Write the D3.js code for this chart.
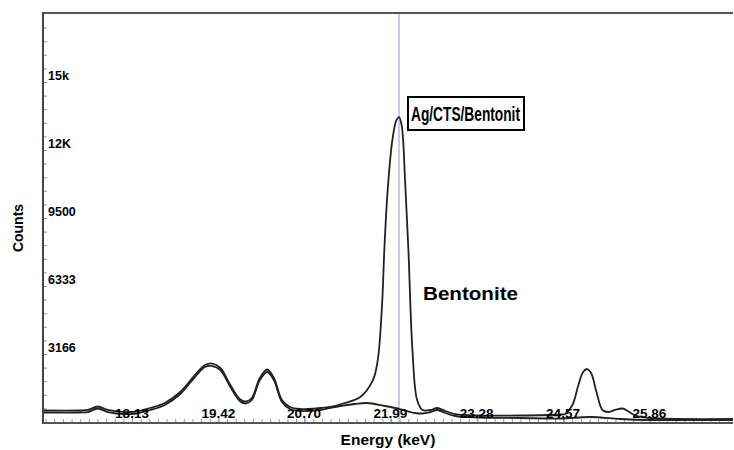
<!DOCTYPE html>
<html><head><meta charset="utf-8">
<script src="https://cdn.jsdelivr.net/npm/d3@7/dist/d3.min.js"></script>
<style>
body{margin:0;background:#fff}
svg{display:block}
text{font-family:"Liberation Sans",Arial,sans-serif;font-weight:bold;fill:#000}
</style>
</head><body><div id="chart"></div>
<script>
// ---- data ----
const energyBentonite = [16.80,17.35,17.47,17.62,17.77,18.13,18.40,18.62,18.85,19.07,19.22,19.33,19.45,19.60,19.74,19.83,19.92,20.04,20.15,20.25,20.37,20.49,20.64,20.94,21.24,21.46,21.64,21.91,22.13,22.29,22.47,22.59,22.69,22.81,22.96,23.33,23.93,24.53,24.98,25.43,25.87,27.11];
const countsBentonite = [442,442,465,628,465,372,559,791,1303,2095,2560,2607,2420,1629,978,861,1024,1955,2328,1955,931,605,512,559,745,838,884,745,605,465,396,465,559,419,279,209,186,163,233,140,93,93];

const energyAg = [16.80,17.35,17.47,17.62,17.77,18.13,18.40,18.62,18.85,19.07,19.22,19.33,19.45,19.60,19.74,19.83,19.92,20.04,20.15,20.25,20.37,20.49,20.64,20.94,21.09,21.31,21.54,21.73,21.79,21.82,21.87,21.90,21.95,22.02,22.08,22.12,22.16,22.21,22.26,22.32,22.39,22.47,22.59,22.69,22.81,22.96,23.33,23.93,24.53,24.60,24.71,24.80,24.87,24.93,24.99,25.07,25.16,25.25,25.35,25.46,25.54,25.65,25.87,27.11];
const countsAg = [535,535,560,721,560,465,652,884,1396,2188,2653,2723,2514,1722,1070,954,1117,2048,2444,2048,1024,698,605,652,700,884,1164,1955,2653,3352,5679,8007,10800,13127,14058,14200,13800,11265,8007,3352,1024,559,559,652,512,372,303,303,349,372,791,1722,2327,2467,2281,1396,559,465,559,628,512,303,186,140];

const xTickValues = [18.13,19.42,20.70,21.99,23.28,24.57,25.86];
const xTickLabels = ["18.13","19.42","20.70","21.99","23.28","24.57","25.86"];
const yTickValues = [3166.67,6333.33,9500,12666.67,15833.33];
const yTickLabels = ["3166","6333","9500","12K","15k"];
const markerEnergy = 22.12;
const seriesNames = ["Ag/CTS/Bentonit","Bentonite"];

// ---- layout ----
const W = 734, H = 450;
const mLeft = 43, mRight = 733, mTop = 13, mBottom = 422;

const svg = d3.select("#chart").append("svg").attr("width", W).attr("height", H);

const x = d3.scaleLinear().domain([16.80, 27.11]).range([mLeft, mRight]);
const y = d3.scaleLinear().domain([0, 19000]).range([mBottom, mTop + 1]);

// minor/major tick positions
const xMinor = d3.range(-10, 75).map(i => 18.13 + i * 0.129).filter(v => x(v) > mLeft + 2 && x(v) < mRight - 1);
const yMinor = d3.range(1, 30).map(i => i * 633.333).filter(v => y(v) > mTop + 2);

// y axis ticks (pointing inside)
const yAxisMinor = d3.axisRight(y).tickValues(yMinor).tickSize(4).tickFormat("");
const gy = svg.append("g").attr("transform", `translate(${mLeft},0)`).call(yAxisMinor);
gy.select(".domain").remove();
gy.selectAll(".tick line").attr("stroke", "#7f9cc0").attr("stroke-width", 1);

// x axis ticks (pointing up)
const xAxisMinor = d3.axisTop(x).tickValues(xMinor).tickSize(3).tickFormat("");
const gx = svg.append("g").attr("transform", `translate(0,${mBottom})`).call(xAxisMinor);
gx.select(".domain").remove();
gx.selectAll(".tick line").attr("stroke", "#7f9cc0").attr("stroke-width", 1);
const xAxisMajor = d3.axisTop(x).tickValues(xTickValues).tickSize(6).tickFormat("");
const gx2 = svg.append("g").attr("transform", `translate(0,${mBottom})`).call(xAxisMajor);
gx2.select(".domain").remove();
gx2.selectAll(".tick line").attr("stroke", "#7f9cc0").attr("stroke-width", 1);

// marker line
svg.append("line")
  .attr("x1", x(markerEnergy)).attr("x2", x(markerEnergy))
  .attr("y1", mTop).attr("y2", mBottom + 1)
  .attr("stroke", "#a9b3ee").attr("stroke-width", 1.4);

// curves
const line = d3.line().x(d => x(d[0])).y(d => y(d[1])).curve(d3.curveCatmullRom.alpha(0.5));
const dataB = energyBentonite.map((e, i) => [e, countsBentonite[i]]);
const dataA = energyAg.map((e, i) => [e, countsAg[i]]);
[dataB, dataA].forEach(d => {
  svg.append("path").datum(d).attr("d", line)
    .attr("fill", "none").attr("stroke", "#222").attr("stroke-width", 1.8)
    .attr("stroke-linejoin", "round");
});

// frame lines
svg.append("line").attr("x1", mLeft).attr("x2", mRight).attr("y1", mTop).attr("y2", mTop)
  .attr("stroke", "#555").attr("stroke-width", 2);
svg.append("line").attr("x1", mLeft).attr("x2", mLeft).attr("y1", mTop - 1).attr("y2", mBottom + 2)
  .attr("stroke", "#444").attr("stroke-width", 2);
svg.append("line").attr("x1", mLeft).attr("x2", mRight).attr("y1", mBottom + 1).attr("y2", mBottom + 1)
  .attr("stroke", "#555").attr("stroke-width", 2);

// y tick labels
svg.append("g").selectAll("text").data(yTickValues).join("text")
  .attr("x", mLeft + 5).attr("y", d => y(d) - 2)
  .attr("font-size", 12.5).text((d, i) => yTickLabels[i]);

// x tick labels
svg.append("g").selectAll("text").data(xTickValues).join("text")
  .attr("x", d => x(d)).attr("y", mBottom - 4)
  .attr("text-anchor", "middle").attr("font-size", 13.5).text((d, i) => xTickLabels[i]);

// axis titles
svg.append("text").attr("transform", "translate(23,228) rotate(-90)")
  .attr("text-anchor", "middle").attr("font-size", 14).text("Counts");
svg.append("text").attr("x", 388).attr("y", 445)
  .attr("text-anchor", "middle").attr("font-size", 15.5).text("Energy (keV)");

// series annotations
svg.append("rect").attr("x", 408).attr("y", 97).attr("width", 116).attr("height", 33)
  .attr("fill", "#fff").attr("stroke", "#000").attr("stroke-width", 2);
svg.append("text").attr("x", 411).attr("y", 121).attr("font-size", 20)
  .attr("textLength", 109).attr("lengthAdjust", "spacingAndGlyphs").text(seriesNames[0]);
svg.append("text").attr("x", 423).attr("y", 300).attr("font-size", 19)
  .attr("textLength", 95).attr("lengthAdjust", "spacingAndGlyphs").text(seriesNames[1]);
</script>
</body></html>
